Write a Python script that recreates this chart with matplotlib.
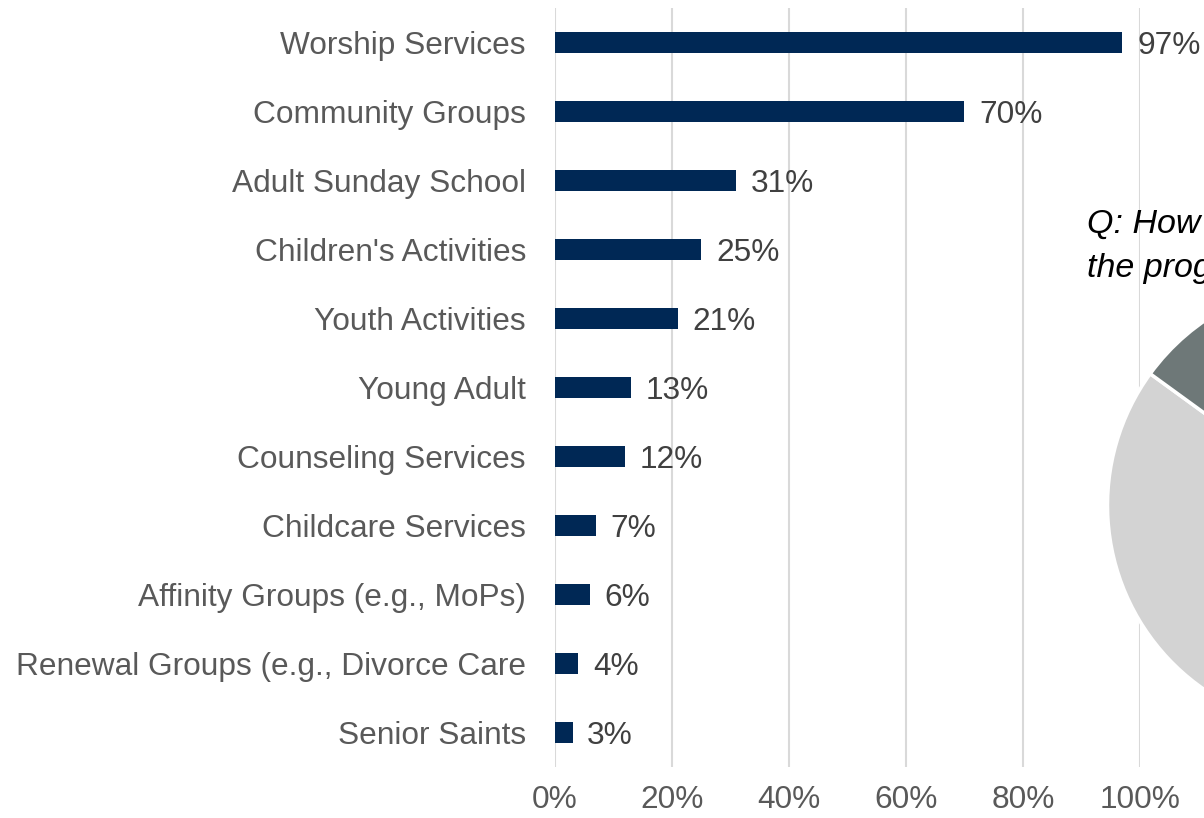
import matplotlib.pyplot as plt
from matplotlib.ticker import PercentFormatter

plt.rcParams['font.family'] = ['Liberation Sans', 'DejaVu Sans']

programs = [
    "Worship Services", "Community Groups", "Adult Sunday School",
    "Children's Activities", "Youth Activities", "Young Adult",
    "Counseling Services", "Childcare Services", "Affinity Groups (e.g., MoPs)",
    "Renewal Groups (e.g., Divorce Care", "Senior Saints",
]
share = [97, 70, 31, 25, 21, 13, 12, 7, 6, 4, 3]

# second panel: pie for the follow-up question
pie_values = [41, 44, 15]
pie_colors = ["#002855", "#D3D3D3", "#6E7878"]

navy = "#002855"
grey_txt = "#595959"
fs = 22.8

fig = plt.figure(figsize=(12.04, 8.18), dpi=100)
ax = fig.add_axes([0.461, 0.0623, 0.4858, 0.9279])

y = range(len(programs))
vals = [v / 100 for v in share]
ax.barh(y, vals, height=0.31, color=navy, zorder=3)
for yi, v, s in zip(y, vals, share):
    ax.text(v + 0.025, yi + 0.05, f"{s}%", va="center", ha="left",
            fontsize=fs, color="#404040", zorder=4)

ax.set_ylim(len(programs) - 0.5, -0.5)
ax.set_xlim(0, 1)
ax.set_yticks(list(y))
ax.set_yticklabels(programs, fontsize=fs, color=grey_txt)
ax.set_xticks([0, 0.2, 0.4, 0.6, 0.8, 1.0])
ax.xaxis.set_major_formatter(PercentFormatter(1.0, decimals=0))
ax.tick_params(axis="x", labelsize=fs, labelcolor=grey_txt, length=0, pad=13)
ax.tick_params(axis="y", length=0, pad=21)
ax.grid(axis="x", color="#D9D9D9", linewidth=1.5, zorder=0)
for sp in ax.spines.values():
    sp.set_visible(False)

# pie sits partly past the right edge
pax = fig.add_axes([0.918, 0.106, 0.3754, 0.5526])
pax.pie(pie_values, colors=pie_colors, startangle=90, counterclock=False,
        radius=1, wedgeprops=dict(edgecolor="white", linewidth=2.5))
pax.set_xlim(-1.01, 1.01)
pax.set_ylim(-1.01, 1.01)
pax.axis("off")

fig.text(1087 / 1204, 1 - 224 / 818, "Q: How", fontsize=24.5, style="italic",
         color="black", va="center", ha="left")
fig.text(1087 / 1204, 1 - 268 / 818, "the prog", fontsize=24.5, style="italic",
         color="black", va="center", ha="left")

fig.savefig("out.png", dpi=100)
